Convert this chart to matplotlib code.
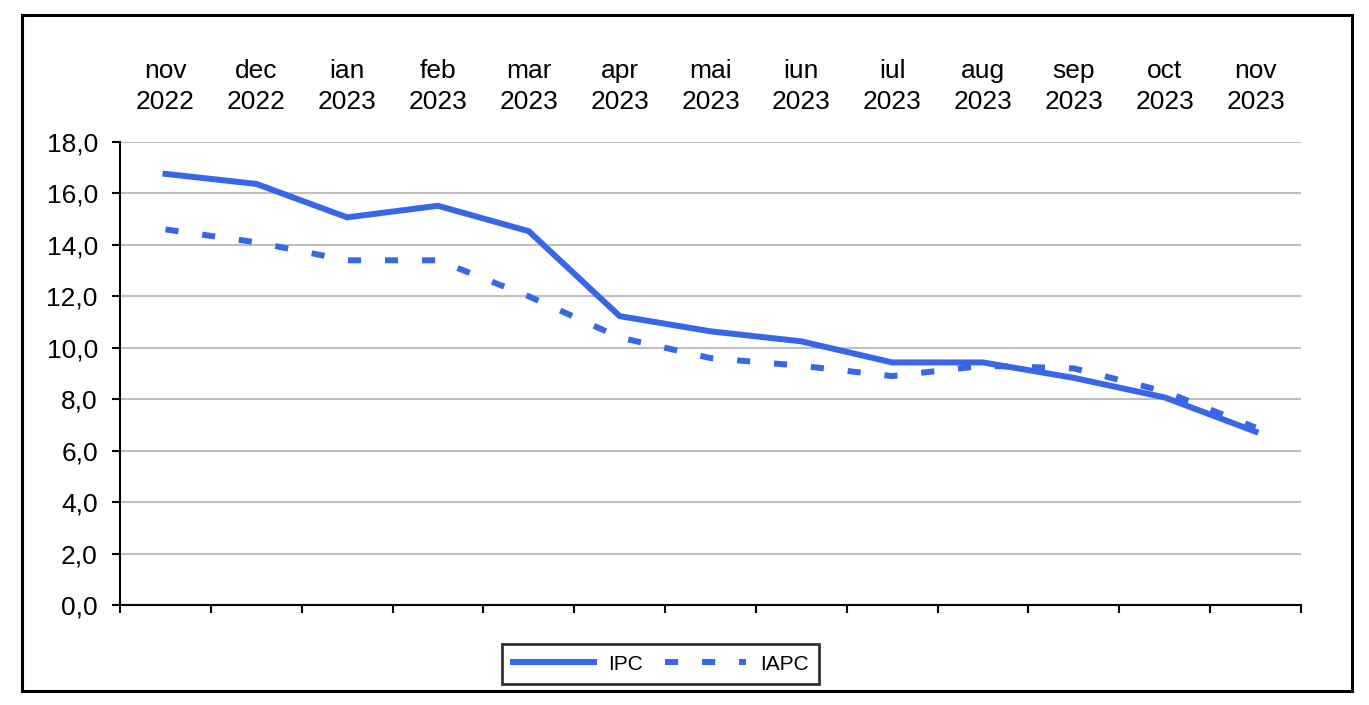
import matplotlib.pyplot as plt
from matplotlib.patches import Rectangle
from matplotlib.ticker import FuncFormatter

months = ["nov\n2022", "dec\n2022", "ian\n2023", "feb\n2023", "mar\n2023",
          "apr\n2023", "mai\n2023", "iun\n2023", "iul\n2023", "aug\n2023",
          "sep\n2023", "oct\n2023", "nov\n2023"]
ipc = [16.76, 16.37, 15.07, 15.52, 14.53, 11.23, 10.64, 10.25, 9.43, 9.43, 8.83, 8.07, 6.74]
iapc = [14.6, 14.1, 13.4, 13.4, 12.0, 10.4, 9.6, 9.3, 8.9, 9.3, 9.2, 8.3, 6.9]
yticks = [0, 2, 4, 6, 8, 10, 12, 14, 16, 18]


def main():
    plt.rcParams["font.family"] = ["Liberation Sans", "DejaVu Sans"]
    color = "#3766E8"

    fig = plt.figure(figsize=(13.69, 7.05), dpi=100)
    ax = fig.add_axes([0.0877, 0.1418, 0.8626, 0.6568])

    x = list(range(len(months)))
    ax.plot(x, ipc, color=color, lw=4.3, solid_joinstyle="miter", label="IPC")
    ax.plot(x, iapc, color=color, lw=4.3, dashes=(2.2, 4.0),
            dash_capstyle="butt", label="IAPC")

    ax.set_xlim(-0.5, len(months) - 0.5)
    ax.set_ylim(0, 18)
    ax.set_yticks(yticks)
    ax.yaxis.set_major_formatter(FuncFormatter(lambda v, p: f"{v:.1f}".replace(".", ",")))
    ax.grid(axis="y", color="#c0c0c0", lw=1.5)
    ax.set_axisbelow(True)

    # month labels on top, category ticks at the bottom
    ax.set_xticks(x)
    ax.set_xticklabels(months, linespacing=1.4)
    ax.set_xticks([i - 0.5 for i in range(len(months) + 1)], minor=True)
    ax.tick_params(axis="x", which="major", top=True, labeltop=True,
                   bottom=False, labelbottom=False, length=0, pad=20,
                   labelsize=19)
    ax.tick_params(axis="x", which="minor", bottom=True, top=False,
                   length=6, width=1.5, direction="out")
    ax.tick_params(axis="y", length=6, width=1.5, pad=10, labelsize=19)

    for s in ["top", "right"]:
        ax.spines[s].set_visible(False)
    for s in ["left", "bottom"]:
        ax.spines[s].set_linewidth(1.5)

    leg = ax.legend(loc="center", bbox_to_anchor=(0.4825, 0.058),
                    bbox_transform=fig.transFigure, ncol=2, fontsize=15,
                    frameon=True, fancybox=False, handlelength=3.9,
                    columnspacing=1.05, handletextpad=0.67, borderpad=0.5)
    leg.get_frame().set_edgecolor("black")
    leg.get_frame().set_linewidth(2)

    fig.patches.append(Rectangle((22 / 1369, 1 - 691 / 705), 1330 / 1369, 676 / 705,
                                 transform=fig.transFigure, fill=False,
                                 edgecolor="black", lw=2.2))

    fig.savefig("out.png", dpi=100)


if __name__ == "__main__":
    main()
